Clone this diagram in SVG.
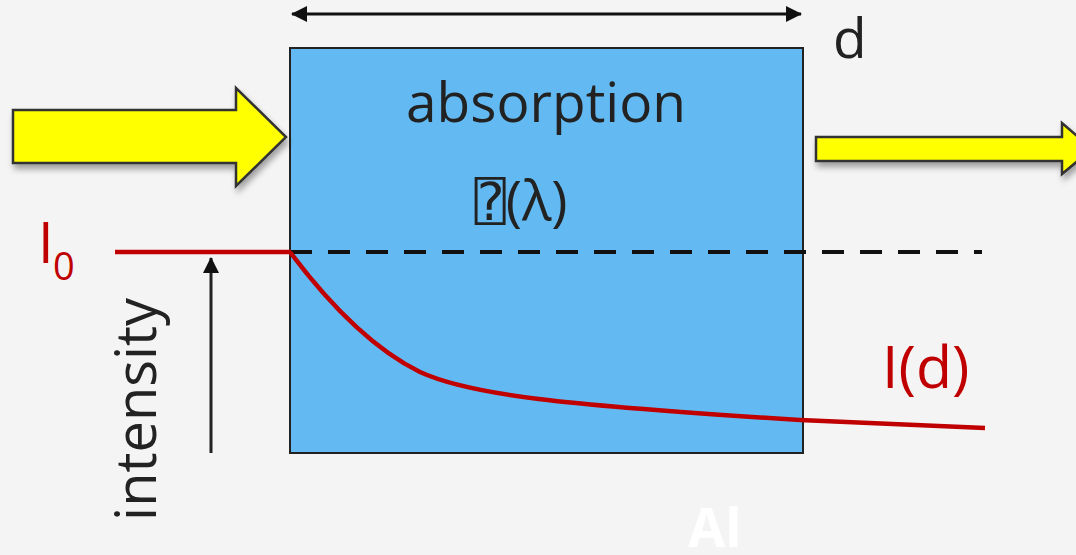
<svg xmlns="http://www.w3.org/2000/svg" width="1076" height="555" viewBox="0 0 1076 555">
<defs>
<style>
.t{font-family:"Open Sans","Noto Sans","DejaVu Sans",sans-serif;fill:#222}
.red{fill:#C00000}
.ya{fill:#FFFF00;stroke:#333;stroke-width:2.5;stroke-linejoin:miter}
</style>
<marker id="ah2" viewBox="0 0 16 16" refX="15" refY="8" markerWidth="16" markerHeight="16" orient="auto-start-reverse" markerUnits="userSpaceOnUse">
<path d="M0,0 L16,8 L0,16 Z" fill="#111"/>
</marker>
<filter id="sh" x="-10%" y="-20%" width="130%" height="160%">
<feGaussianBlur in="SourceAlpha" stdDeviation="3"/>
<feOffset dx="2" dy="5"/>
<feComponentTransfer><feFuncA type="linear" slope="0.35"/></feComponentTransfer>
<feMerge><feMergeNode/><feMergeNode in="SourceGraphic"/></feMerge>
</filter>
</defs>
<rect width="1076" height="555" fill="#F4F4F4"/>
<g id="slab">
<rect x="290" y="48" width="513" height="405" fill="#63BAF3" stroke="#222" stroke-width="2"/>
<text class="t" x="546" y="122" font-size="55" text-anchor="middle">absorption</text>
<text class="t" x="521" y="220" font-size="55" text-anchor="middle"><tspan font-family="DejaVu Sans Mono,DejaVu Sans,monospace" font-size="52">⍰</tspan>(λ)</text>
</g>
<g id="arrow-in">
<path class="ya" filter="url(#sh)" d="M13,110 L236,110 L236,88 L286,137 L236,186 L236,163 L13,163 Z"/>
</g>
<g id="arrow-out">
<path class="ya" filter="url(#sh)" d="M816,137 L1062,137 L1062,123 L1092,149 L1062,174 L1062,161 L816,161 Z"/>
</g>
<g id="labels">
<text class="t" x="833" y="58" font-size="55">d</text>
<text class="t red" x="38" y="263" font-size="56">I</text>
<text class="t red" x="53" y="280" font-size="38">0</text>
<text class="t red" x="882" y="388" font-size="59">I(d)</text>
<text class="t" transform="translate(156,521) rotate(-90)" font-size="56">intensity</text>
<text x="688" y="547" font-family="Open Sans,sans-serif" font-weight="bold" font-size="54" fill="#FFFFFF">Al</text>
</g>
<g id="connectors">
<line x1="292" y1="14" x2="801" y2="14" stroke="#111" stroke-width="3" marker-start="url(#ah2)" marker-end="url(#ah2)"/>
<line x1="211" y1="453" x2="211" y2="258" stroke="#222" stroke-width="3" marker-end="url(#ah2)"/>
<line x1="290" y1="252" x2="982" y2="252" stroke="#111" stroke-width="4" stroke-dasharray="22,16"/>
<line x1="115" y1="252" x2="291" y2="252" stroke="#C00000" stroke-width="4.5"/>
<path d="M290,252 C320,292 365,345 420,372 C470,395 560,405 800,420 L985,428" fill="none" stroke="#C00000" stroke-width="4.5"/>
</g>
</svg>
